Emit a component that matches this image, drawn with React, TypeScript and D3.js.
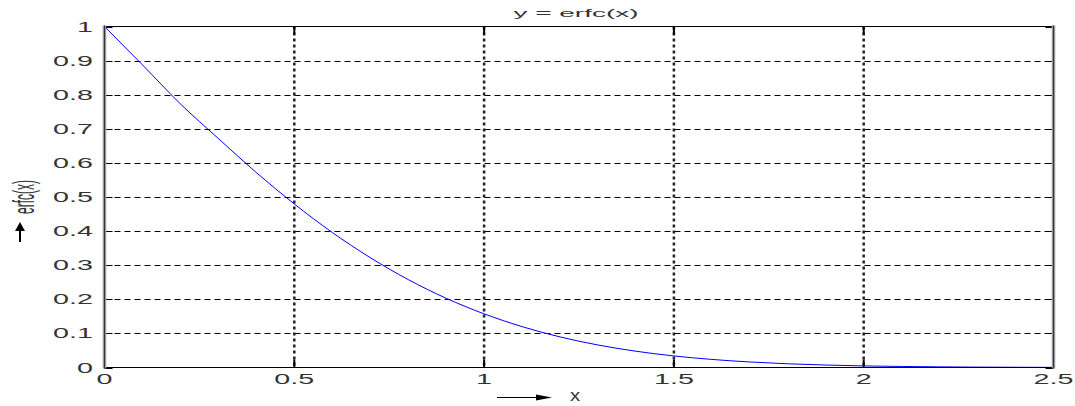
import React, { useEffect, useRef } from 'react';
import * as d3 from 'd3';

// values, x step 0.1
const xValues = [0, 0.1, 0.2, 0.3, 0.4, 0.5, 0.6, 0.7, 0.8, 0.9, 1.0, 1.1, 1.2, 1.3, 1.4, 1.5, 1.6, 1.7, 1.8, 1.9, 2.0, 2.1, 2.2, 2.3, 2.4, 2.5];
const yValues = [1, 0.8875, 0.773, 0.6714, 0.5716, 0.4795, 0.3961, 0.3222, 0.2579, 0.2031, 0.1573, 0.1198, 0.0897, 0.066, 0.0477, 0.0339, 0.0237, 0.0162, 0.0109, 0.0072, 0.0047, 0.003, 0.0019, 0.0011, 0.0007, 0.0004];
const xTicks = [0, 0.5, 1, 1.5, 2, 2.5];
const yTicks = [0, 0.1, 0.2, 0.3, 0.4, 0.5, 0.6, 0.7, 0.8, 0.9, 1];
const titleText = 'y = erfc(x)';
const xLabel = 'x';
const yLabel = 'erfc(x)';

const width = 1075;
const height = 406;

const App = () => {
  const ref = useRef<SVGSVGElement>(null);

  useEffect(() => {
    const svg = d3.select(ref.current);
    svg.selectAll('*').remove();

    const left = 104.5;
    const right = 1053.5;
    const top = 26.5;
    const bottom = 367.5;

    const x = d3.scaleLinear().domain([0, 2.5]).range([left, right]);
    const y = d3.scaleLinear().domain([0, 1]).range([bottom, top]);

    svg.append('rect').attr('width', width).attr('height', height).attr('fill', '#fff');

    // horizontal dashed grid
    svg.append('g')
      .selectAll('line')
      .data(yTicks.filter(d => d > 0 && d < 1))
      .enter()
      .append('line')
      .attr('x1', left)
      .attr('x2', right)
      .attr('y1', d => Math.round(y(d)) + 0.5)
      .attr('y2', d => Math.round(y(d)) + 0.5)
      .attr('stroke', '#000')
      .attr('stroke-width', 1)
      .attr('stroke-dasharray', '6,4');

    // vertical dotted grid
    svg.append('g')
      .selectAll('line')
      .data(xTicks.filter(d => d > 0 && d < 2.5))
      .enter()
      .append('line')
      .attr('x1', d => x(d))
      .attr('x2', d => x(d))
      .attr('y1', top)
      .attr('y2', bottom)
      .attr('stroke', '#222')
      .attr('stroke-width', 2.5)
      .attr('stroke-dasharray', '3,3');

    // tick marks (inward, both sides)
    const tickLen = 8;
    const ticks = svg.append('g').attr('stroke', '#000').attr('stroke-width', 1);
    yTicks.forEach(d => {
      const yy = Math.round(y(d)) + 0.5;
      ticks.append('line').attr('x1', left).attr('x2', left + tickLen).attr('y1', yy).attr('y2', yy);
      ticks.append('line').attr('x1', right - tickLen).attr('x2', right).attr('y1', yy).attr('y2', yy);
    });
    xTicks.forEach(d => {
      ticks.append('line').attr('x1', x(d)).attr('x2', x(d)).attr('y1', bottom).attr('y2', bottom - tickLen).attr('stroke-width', 2);
      ticks.append('line').attr('x1', x(d)).attr('x2', x(d)).attr('y1', top).attr('y2', top + tickLen).attr('stroke-width', 2);
    });

    // curve
    const line = d3.line<number>()
      .x((_, i) => x(xValues[i]))
      .y(d => y(d))
      .curve(d3.curveMonotoneX);
    svg.append('path')
      .datum(yValues)
      .attr('d', line)
      .attr('fill', 'none')
      .attr('stroke', '#0000ff')
      .attr('stroke-width', 1);

    // box: top/bottom thin black, left/right thick gray
    svg.append('line').attr('x1', left).attr('x2', right).attr('y1', top).attr('y2', top).attr('stroke', '#000');
    svg.append('line').attr('x1', left).attr('x2', right).attr('y1', bottom).attr('y2', bottom).attr('stroke', '#000');
    [left, right].forEach(xx => {
      svg.append('line').attr('x1', xx).attr('x2', xx).attr('y1', top - 1).attr('y2', bottom + 1).attr('stroke', '#9a9a9a').attr('stroke-width', 3.5);
      svg.append('line').attr('x1', xx).attr('x2', xx).attr('y1', top - 1).attr('y2', bottom + 1).attr('stroke', '#333').attr('stroke-width', 1);
    });

    const font = 'Liberation Sans, Arial, sans-serif';
    const textColor = '#333';

    // y tick labels
    svg.append('g')
      .selectAll('text')
      .data(yTicks)
      .enter()
      .append('text')
      .attr('transform', d => `translate(93,${y(d) + 5}) scale(2.05,1)`)
      .attr('text-anchor', 'end')
      .attr('font-family', font)
      .attr('font-size', 14)
      .attr('fill', textColor)
      .text(d => String(d));

    // x tick labels
    svg.append('g')
      .selectAll('text')
      .data(xTicks)
      .enter()
      .append('text')
      .attr('transform', d => `translate(${x(d)},384) scale(2.05,1)`)
      .attr('text-anchor', 'middle')
      .attr('font-family', font)
      .attr('font-size', 14)
      .attr('fill', textColor)
      .text(d => String(d));

    // title
    svg.append('text')
      .attr('transform', `translate(${(left + right) / 2 - 3},17) scale(2.8,1)`)
      .attr('text-anchor', 'middle')
      .attr('font-family', font)
      .attr('font-size', 10)
      .attr('fill', textColor)
      .text(titleText);

    // x label with arrow
    svg.append('line').attr('x1', 497).attr('x2', 538).attr('y1', 397.5).attr('y2', 397.5).attr('stroke', '#000');
    svg.append('path').attr('d', 'M536,394.5 L552,397.5 L536,400.5 Z').attr('fill', '#000');
    svg.append('text')
      .attr('transform', 'translate(575,401) scale(1.2,1)')
      .attr('text-anchor', 'middle')
      .attr('font-family', font)
      .attr('font-size', 17)
      .attr('fill', textColor)
      .text(xLabel);

    // y label with arrow
    svg.append('line').attr('x1', 20).attr('x2', 20).attr('y1', 228).attr('y2', 242).attr('stroke', '#000').attr('stroke-width', 2);
    svg.append('path').attr('d', 'M15,231 L20,222 L25,231 Z').attr('fill', '#000');
    svg.append('text')
      .attr('transform', 'translate(34,197) scale(2.4,1) rotate(-90)')
      .attr('text-anchor', 'middle')
      .attr('font-family', font)
      .attr('font-size', 12)
      .attr('fill', textColor)
      .text(yLabel);
  }, []);

  return (
    <div style={{ position: 'fixed', left: 0, top: 0 }}>
      <svg ref={ref} width={width} height={height} style={{ display: 'block' }} />
    </div>
  );
};

export default App;
